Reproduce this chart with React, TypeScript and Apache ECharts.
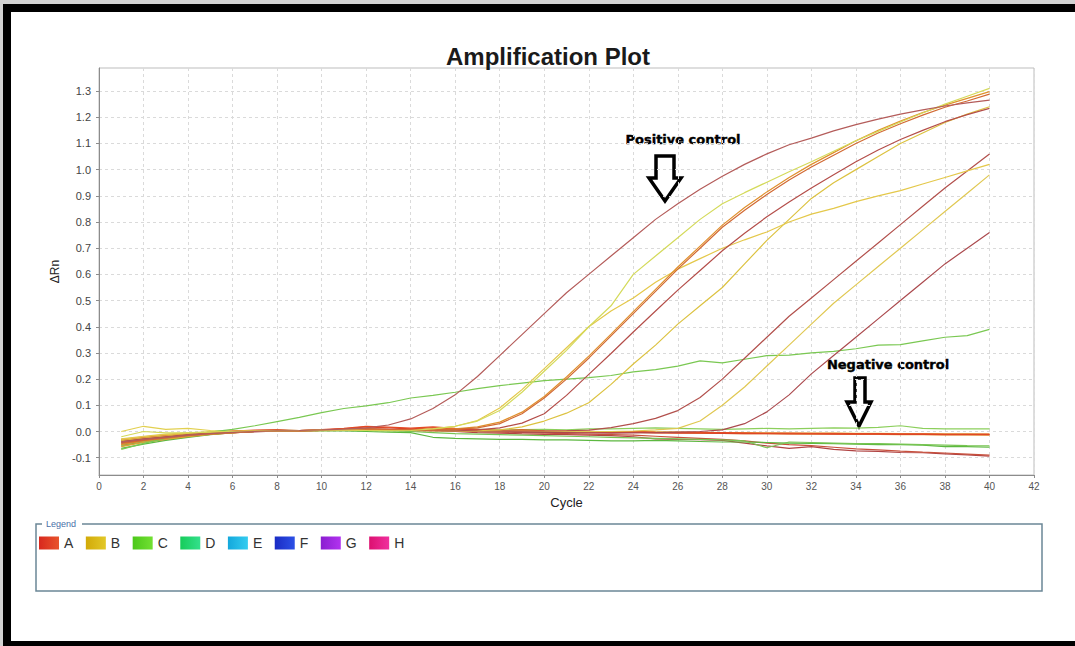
import React, { useEffect, useRef } from "react";
import * as echarts from "echarts";

// ---------- data ----------
const cycles = [1, 2, 3, 4, 5, 6, 7, 8, 9, 10, 11, 12, 13, 14, 15, 16, 17, 18, 19, 20,
  21, 22, 23, 24, 25, 26, 27, 28, 29, 30, 31, 32, 33, 34, 35, 36, 37, 38, 39, 40];

const yTicks = [-0.1, 0.0, 0.1, 0.2, 0.3, 0.4, 0.5, 0.6, 0.7, 0.8, 0.9, 1.0, 1.1, 1.2, 1.3];

const legendNames = ["A", "B", "C", "D", "E", "F", "G", "H"];

// row A wells
const wellA1 = [-0.040, -0.030, -0.022, -0.014, -0.008, -0.003, 0.000, 0.003, 0.004, 0.006, 0.009, 0.014, 0.025, 0.048, 0.088, 0.140, 0.210, 0.290, 0.370, 0.450, 0.530, 0.600, 0.670, 0.740, 0.810, 0.870, 0.925, 0.975, 1.020, 1.060, 1.095, 1.120, 1.148, 1.172, 1.193, 1.212, 1.228, 1.243, 1.255, 1.265];
const wellA2 = [-0.045, -0.034, -0.024, -0.015, -0.008, -0.002, 0.002, 0.004, 0.004, 0.006, 0.008, 0.010, 0.008, 0.007, 0.006, 0.008, 0.014, 0.030, 0.068, 0.128, 0.200, 0.280, 0.365, 0.450, 0.535, 0.620, 0.700, 0.780, 0.845, 0.905, 0.960, 1.010, 1.055, 1.100, 1.140, 1.175, 1.208, 1.238, 1.262, 1.288];
const wellA3 = [-0.038, -0.028, -0.020, -0.012, -0.006, -0.002, 0.001, 0.003, 0.002, 0.004, 0.006, 0.009, 0.007, 0.004, 0.003, 0.002, 0.006, 0.014, 0.032, 0.068, 0.138, 0.218, 0.298, 0.380, 0.460, 0.540, 0.615, 0.690, 0.757, 0.820, 0.876, 0.930, 0.980, 1.030, 1.075, 1.115, 1.150, 1.183, 1.210, 1.234];
const wellA4 = [-0.042, -0.032, -0.023, -0.015, -0.009, -0.004, -0.001, 0.002, 0.003, 0.004, 0.006, 0.008, 0.007, 0.005, 0.004, 0.003, 0.002, 0.002, 0.001, 0.002, 0.003, 0.005, 0.015, 0.030, 0.050, 0.080, 0.130, 0.200, 0.280, 0.360, 0.440, 0.510, 0.580, 0.650, 0.720, 0.790, 0.860, 0.930, 0.995, 1.060];
const wellA5 = [-0.036, -0.027, -0.019, -0.012, -0.007, -0.003, 0.000, 0.002, 0.003, 0.004, 0.005, 0.006, 0.006, 0.005, 0.004, 0.003, 0.002, 0.000, -0.002, -0.003, -0.004, -0.005, -0.006, -0.005, -0.004, -0.002, 0.000, 0.006, 0.030, 0.075, 0.140, 0.220, 0.290, 0.360, 0.430, 0.500, 0.570, 0.640, 0.700, 0.760];
const wellA6 = [-0.034, -0.025, -0.016, -0.010, -0.005, 0.000, 0.004, 0.005, 0.002, 0.005, 0.010, 0.018, 0.014, 0.010, 0.014, 0.010, 0.006, 0.002, 0.004, 0.001, 0.000, -0.001, -0.004, -0.002, -0.005, -0.006, -0.006, -0.007, -0.008, -0.008, -0.009, -0.009, -0.010, -0.010, -0.010, -0.011, -0.011, -0.012, -0.012, -0.012];
const wellA7 = [-0.030, -0.022, -0.014, -0.008, -0.003, 0.002, 0.005, 0.006, 0.004, 0.007, 0.012, 0.020, 0.017, 0.013, 0.018, 0.012, 0.008, 0.004, 0.006, 0.003, 0.002, 0.001, -0.001, 0.000, -0.002, -0.003, -0.004, -0.004, -0.005, -0.006, -0.006, -0.007, -0.007, -0.008, -0.008, -0.009, -0.009, -0.010, -0.010, -0.010];
const wellA8 = [-0.052, -0.040, -0.030, -0.020, -0.011, -0.005, 0.000, 0.002, 0.004, 0.005, 0.006, 0.010, 0.006, 0.002, 0.004, 0.000, -0.004, -0.006, -0.009, -0.011, -0.012, -0.014, -0.016, -0.020, -0.028, -0.030, -0.031, -0.034, -0.044, -0.055, -0.064, -0.058, -0.068, -0.074, -0.076, -0.080, -0.081, -0.085, -0.089, -0.094];
const wellA9 = [-0.044, -0.034, -0.025, -0.017, -0.010, -0.004, 0.000, 0.003, 0.004, 0.005, 0.007, 0.010, 0.008, 0.005, 0.006, 0.003, 0.000, -0.002, -0.004, -0.006, -0.008, -0.010, -0.012, -0.014, -0.018, -0.022, -0.026, -0.030, -0.036, -0.044, -0.050, -0.054, -0.060, -0.066, -0.070, -0.075, -0.079, -0.082, -0.086, -0.090];

// row B wells
const wellB1 = [-0.020, 0.000, -0.005, -0.004, -0.002, 0.000, 0.002, 0.003, 0.004, 0.005, 0.006, 0.004, 0.003, 0.004, 0.010, 0.020, 0.040, 0.080, 0.150, 0.230, 0.310, 0.400, 0.480, 0.600, 0.670, 0.740, 0.810, 0.870, 0.912, 0.952, 0.992, 1.030, 1.070, 1.110, 1.146, 1.182, 1.216, 1.250, 1.280, 1.310];
const wellB2 = [-0.030, -0.020, -0.012, -0.006, -0.002, 0.001, 0.003, 0.004, 0.003, 0.004, 0.005, 0.006, 0.005, 0.006, 0.010, 0.020, 0.042, 0.090, 0.160, 0.240, 0.320, 0.400, 0.460, 0.510, 0.570, 0.620, 0.660, 0.700, 0.732, 0.762, 0.800, 0.830, 0.852, 0.878, 0.900, 0.920, 0.945, 0.970, 0.995, 1.020];
const wellB3 = [-0.035, -0.025, -0.017, -0.010, -0.005, -0.001, 0.002, 0.003, 0.003, 0.004, 0.005, 0.006, 0.005, 0.004, 0.003, 0.002, 0.003, 0.006, 0.018, 0.040, 0.070, 0.110, 0.180, 0.258, 0.330, 0.410, 0.480, 0.550, 0.640, 0.730, 0.810, 0.890, 0.950, 1.000, 1.050, 1.100, 1.140, 1.180, 1.212, 1.240];
const wellB4 = [-0.028, -0.018, -0.010, -0.005, -0.002, 0.000, 0.002, 0.003, 0.002, 0.003, 0.004, 0.005, 0.004, 0.004, 0.003, 0.002, 0.001, 0.002, 0.002, 0.001, 0.000, 0.000, 0.000, 0.002, 0.006, 0.012, 0.040, 0.100, 0.170, 0.250, 0.330, 0.410, 0.490, 0.560, 0.630, 0.700, 0.770, 0.840, 0.910, 0.980];
const wellB5 = [0.000, 0.020, 0.008, 0.012, 0.004, 0.002, 0.003, 0.004, 0.003, 0.004, 0.005, 0.006, 0.005, 0.004, 0.006, 0.004, 0.003, 0.002, 0.002, 0.001, 0.001, 0.000, 0.000, 0.000, -0.001, -0.002, -0.003, -0.004, -0.004, -0.005, -0.006, -0.006, -0.006, -0.007, -0.007, -0.008, -0.008, -0.009, -0.009, -0.010];
const wellB6 = [-0.058, -0.042, -0.030, -0.020, -0.011, -0.005, 0.000, 0.002, 0.004, 0.004, 0.006, 0.008, 0.007, 0.006, 0.008, 0.006, 0.004, 0.002, 0.001, 0.000, -0.001, -0.002, -0.002, -0.003, -0.004, -0.005, -0.006, -0.007, -0.008, -0.008, -0.009, -0.010, -0.010, -0.011, -0.011, -0.012, -0.012, -0.013, -0.013, -0.014];
const wellB7 = [-0.050, -0.036, -0.025, -0.016, -0.009, -0.004, 0.000, 0.003, 0.003, 0.005, 0.007, 0.008, 0.006, 0.005, 0.007, 0.010, 0.018, 0.036, 0.074, 0.134, 0.208, 0.288, 0.372, 0.458, 0.543, 0.628, 0.708, 0.788, 0.855, 0.915, 0.970, 1.020, 1.065, 1.110, 1.150, 1.185, 1.218, 1.246, 1.272, 1.298];

// row C wells
const wellC1 = [-0.068, -0.045, -0.026, -0.012, -0.002, 0.008, 0.022, 0.038, 0.054, 0.072, 0.088, 0.098, 0.110, 0.128, 0.138, 0.150, 0.164, 0.175, 0.185, 0.194, 0.200, 0.206, 0.214, 0.228, 0.236, 0.250, 0.270, 0.262, 0.276, 0.290, 0.292, 0.300, 0.306, 0.316, 0.330, 0.332, 0.346, 0.360, 0.366, 0.390];
const wellC2 = [-0.050, -0.036, -0.024, -0.014, -0.006, 0.000, 0.004, 0.005, 0.004, 0.004, 0.005, 0.005, 0.004, 0.004, 0.006, 0.008, 0.008, 0.006, 0.007, 0.008, 0.006, 0.010, 0.010, 0.012, 0.014, 0.012, 0.010, 0.008, 0.010, 0.012, 0.010, 0.012, 0.014, 0.013, 0.016, 0.022, 0.012, 0.010, 0.010, 0.010];
const wellC3 = [-0.064, -0.048, -0.034, -0.022, -0.012, -0.004, 0.000, 0.002, 0.002, 0.002, 0.002, 0.000, -0.002, -0.004, -0.022, -0.026, -0.028, -0.030, -0.030, -0.032, -0.032, -0.034, -0.036, -0.036, -0.034, -0.036, -0.038, -0.040, -0.040, -0.042, -0.044, -0.045, -0.046, -0.048, -0.050, -0.050, -0.052, -0.058, -0.058, -0.060];
const wellC4 = [-0.056, -0.040, -0.028, -0.018, -0.010, -0.003, 0.001, 0.003, 0.003, 0.004, 0.004, 0.004, 0.002, 0.000, -0.004, -0.008, -0.010, -0.012, -0.014, -0.016, -0.018, -0.020, -0.022, -0.024, -0.026, -0.028, -0.030, -0.032, -0.036, -0.062, -0.040, -0.042, -0.044, -0.046, -0.046, -0.048, -0.050, -0.052, -0.054, -0.055];

// ---------- styles ----------
const wells = [
  { row: "A", values: wellA8, color: "#b04444" },
  { row: "A", values: wellA9, color: "#c8503c" },
  { row: "C", values: wellC3, color: "#5cb840" },
  { row: "C", values: wellC4, color: "#78c452" },
  { row: "C", values: wellC2, color: "#8ccf5c" },
  { row: "B", values: wellB5, color: "#e2d050" },
  { row: "B", values: wellB6, color: "#e4a032" },
  { row: "A", values: wellA6, color: "#d8402c" },
  { row: "A", values: wellA7, color: "#e44a24" },
  { row: "C", values: wellC1, color: "#7ac852" },
  { row: "A", values: wellA5, color: "#ab4a4e" },
  { row: "B", values: wellB4, color: "#e0c852" },
  { row: "A", values: wellA4, color: "#b2504c" },
  { row: "B", values: wellB3, color: "#dcc240" },
  { row: "B", values: wellB2, color: "#e4c84a" },
  { row: "A", values: wellA3, color: "#b44e4a" },
  { row: "B", values: wellB7, color: "#e0902c" },
  { row: "A", values: wellA2, color: "#d26a34" },
  { row: "B", values: wellB1, color: "#d4da5a" },
  { row: "A", values: wellA1, color: "#b45c5a" },
];

const legendGradients = [
  ["#d8281e", "#e8542c"],
  ["#d2aa08", "#e2c828"],
  ["#4cc81a", "#72e032"],
  ["#16cc5a", "#34e08c"],
  ["#14a8dc", "#34ccf0"],
  ["#1a2cc4", "#2c50e6"],
  ["#8a1ed0", "#b232f0"],
  ["#dc1070", "#f0309e"],
];

const FONT = "'Liberation Sans', Arial, sans-serif";

export default function App() {
  const ref = useRef<HTMLDivElement>(null);

  useEffect(() => {
    if (!ref.current) return;
    const chart = echarts.init(ref.current, undefined, { renderer: "svg" });

    const series: any[] = wells.map((w) => ({
      type: "line",
      name: w.row,
      data: cycles.map((c, i) => [c, w.values[i]]),
      symbol: "none",
      showSymbol: false,
      silent: true,
      lineStyle: { color: w.color, width: 1.2 },
      itemStyle: { color: w.color },
      emphasis: { disabled: true },
    }));
    ["D", "E", "F", "G", "H"].forEach((n) =>
      series.push({ type: "line", name: n, data: [], symbol: "none" })
    );

    const legendData = legendNames.map((n, i) => ({
      name: n,
      itemStyle: {
        borderWidth: 0,
        color: new echarts.graphic.LinearGradient(0, 0, 1, 0, [
          { offset: 0, color: legendGradients[i][0] },
          { offset: 1, color: legendGradients[i][1] },
        ]),
      },
    }));

    chart.setOption({
      animation: false,
      title: {
        text: "Amplification Plot",
        left: 441,
        top: 39,
        textStyle: { fontFamily: FONT, fontSize: 24, fontWeight: "bold", color: "#1a1a1a" },
      },
      grid: {
        left: 99,
        right: 41,
        top: 68,
        bottom: 171,
        show: true,
        borderColor: "#bdbdbd",
        borderWidth: 1,
        containLabel: false,
        outerBoundsMode: "none",
      },
      legend: {
        left: 39,
        top: 536,
        padding: 0,
        icon: "rect",
        itemWidth: 20,
        itemHeight: 13,
        itemGap: 12.5,
        selectedMode: false,
        textStyle: { fontFamily: FONT, fontSize: 14, color: "#333" },
        data: legendData,
      },
      xAxis: {
        type: "value",
        min: 0,
        max: 42,
        interval: 2,
        name: "Cycle",
        nameLocation: "middle",
        nameGap: 20,
        nameTextStyle: { fontFamily: FONT, fontSize: 13, color: "#222" },
        axisLine: { onZero: false, lineStyle: { color: "#8c8c8c", width: 1 } },
        axisTick: { show: true, length: 3, lineStyle: { color: "#8c8c8c" } },
        axisLabel: { fontFamily: FONT, fontSize: 10, color: "#555", margin: 6 },
        splitLine: { show: true, lineStyle: { color: "#dadada", type: [3, 3], width: 1 } },
      },
      yAxis: {
        type: "value",
        min: -0.166,
        max: 1.388,
        splitNumber: 15,
        name: "ΔRn",
        nameLocation: "middle",
        nameGap: 36,
        nameRotate: 90,
        nameTextStyle: { fontFamily: FONT, fontSize: 12, color: "#222" },
        axisLine: { show: true, onZero: false, lineStyle: { color: "#8c8c8c", width: 1 } },
        axisTick: { show: true, length: 3, customValues: yTicks, lineStyle: { color: "#8c8c8c" } },
        axisLabel: {
          fontFamily: FONT,
          fontSize: 11,
          color: "#444",
          margin: 8,
          customValues: yTicks,
          formatter: (v: number) => v.toFixed(1),
        },
        splitLine: { show: true, lineStyle: { color: "#dadada", type: [3, 3], width: 1 } },
      },
      graphic: [
        {
          type: "polyline",
          silent: true,
          shape: { points: [[42, 524], [36, 524], [36, 591], [1042, 591], [1042, 524], [82, 524]] },
          style: { stroke: "#6b8796", lineWidth: 1.5, fill: null },
        },
        {
          type: "text",
          silent: true,
          x: 46,
          y: 524,
          style: { text: "Legend", fontFamily: FONT, fontSize: 9, fill: "#4a70a8", verticalAlign: "middle", align: "left" },
        },
        {
          type: "text",
          silent: true,
          x: 683,
          y: 139,
          style: {
            text: "Positive control",
            fontFamily: "'DejaVu Sans', sans-serif",
            fontWeight: "bold",
            fontSize: 13,
            fill: "#000",
            stroke: "#000",
            lineWidth: 0.4,
            align: "center",
            verticalAlign: "middle",
          },
        },
        {
          type: "polygon",
          silent: true,
          shape: { points: [[656, 156], [674, 156], [674, 178], [681, 178], [665, 201], [649, 178], [656, 178]] },
          style: { stroke: "#000", lineWidth: 3.5, fill: "#fff", lineJoin: "miter" },
        },
        {
          type: "text",
          silent: true,
          x: 888,
          y: 364,
          style: {
            text: "Negative control",
            fontFamily: "'DejaVu Sans', sans-serif",
            fontWeight: "bold",
            fontSize: 13,
            fill: "#000",
            stroke: "#000",
            lineWidth: 0.4,
            align: "center",
            verticalAlign: "middle",
          },
        },
        {
          type: "polygon",
          silent: true,
          shape: { points: [[855, 378], [865, 378], [865, 402], [871, 402], [859, 426], [847, 402], [855, 402]] },
          style: { stroke: "#000", lineWidth: 3.5, fill: "#fff", lineJoin: "miter" },
        },
      ],
      series,
    });

    return () => chart.dispose();
  }, []);

  return (
    <div style={{ position: "fixed", left: 0, top: 0, width: 1075, height: 646, background: "#d2d2d2" }}>
      <div style={{ position: "absolute", left: 3, top: 4, width: 1072, height: 642, background: "#000" }} />
      <div style={{ position: "absolute", left: 11, top: 12, width: 1064, height: 629, background: "#fff" }} />
      <div ref={ref} style={{ position: "absolute", left: 0, top: 0, width: 1075, height: 646 }} />
    </div>
  );
}
